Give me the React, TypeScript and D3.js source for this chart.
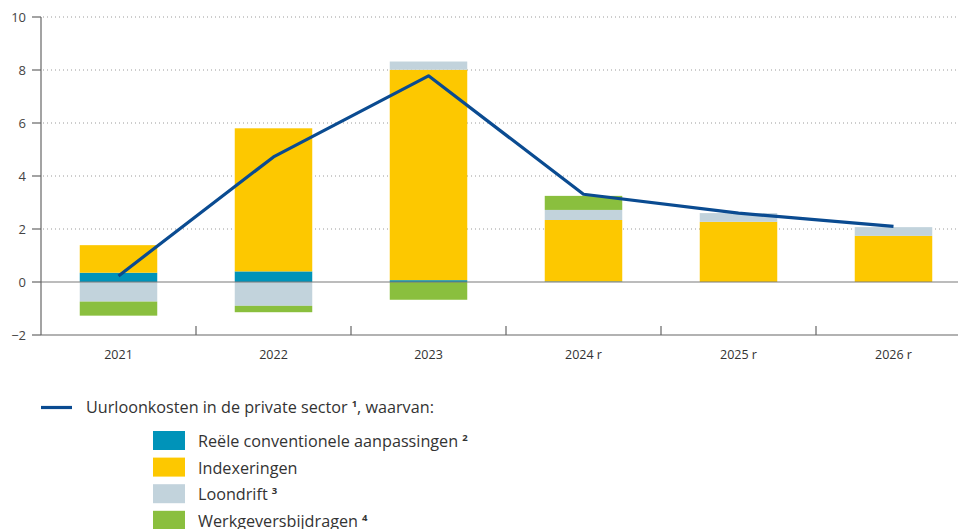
import React from "react";
import * as d3 from "d3";

const categories = ["2021", "2022", "2023", "2024 r", "2025 r", "2026 r"];
const reele = [0.35, 0.4, 0.07, 0.02, 0, 0];
const indexeringen = [1.04, 5.4, 7.94, 2.32, 2.27, 1.74];
const loondrift = [-0.74, -0.9, 0.31, 0.38, 0.33, 0.33];
const werkgever = [-0.53, -0.24, -0.67, 0.53, 0, 0];
const totaal = [0.23, 4.72, 7.78, 3.31, 2.6, 2.1];
const yTicks = [-2, 0, 2, 4, 6, 8, 10];

const seriesKeys = ["reele", "indexeringen", "loondrift", "werkgever"];
const seriesColors: Record<string, string> = {
  reele: "#0093b9",
  indexeringen: "#fdc800",
  loondrift: "#c2d3dc",
  werkgever: "#8abf3e",
};
const legendItems = [
  { key: "reele", label: "Reële conventionele aanpassingen", sup: "2" },
  { key: "indexeringen", label: "Indexeringen", sup: "" },
  { key: "loondrift", label: "Loondrift", sup: "3" },
  { key: "werkgever", label: "Werkgeversbijdragen", sup: "4" },
];

const W = 958;
const H = 529;
const FONT = "'Open Sans', 'Noto Sans', sans-serif";

export default function App() {
  const x = d3
    .scaleBand<string>()
    .domain(categories)
    .range([41, 971])
    .paddingInner(0.5)
    .paddingOuter(0.25);
  const y = d3.scaleLinear().domain([-2, 10]).range([335, 17]);

  const table = categories.map((c, i) => ({
    cat: c,
    reele: reele[i],
    indexeringen: indexeringen[i],
    loondrift: loondrift[i],
    werkgever: werkgever[i],
  }));
  const stacked = d3
    .stack<any>()
    .keys(seriesKeys)
    .offset(d3.stackOffsetDiverging)(table);

  const bw = x.bandwidth();
  const line = d3
    .line<number>()
    .x((_, i) => (x(categories[i]) as number) + bw / 2)
    .y((d) => y(d));

  const boundaries = categories.slice(0, -1).map((c) => (x(c) as number) + bw * 1.5);

  return (
    <svg
      width={W}
      height={H}
      style={{ position: "absolute", left: 0, top: 0, display: "block" }}
      fontFamily={FONT}
    >
      <rect width={W} height={H} fill="#fff" />
      {/* grid */}
      {yTicks
        .filter((t) => t > 0)
        .map((t) => (
          <line
            key={"g" + t}
            x1={43}
            x2={W}
            y1={y(t)}
            y2={y(t)}
            stroke="#9a9a9a"
            strokeWidth={1}
            strokeDasharray="1,3"
          />
        ))}
      {/* bars */}
      {stacked.map((s) => (
        <g key={s.key} fill={seriesColors[s.key]}>
          {s.map((d, i) => {
            const y0 = y(d[0]);
            const y1 = y(d[1]);
            const h = Math.abs(y1 - y0);
            if (h < 0.01) return null;
            return (
              <rect
                key={i}
                x={x(categories[i])}
                y={Math.min(y0, y1)}
                width={bw}
                height={h}
              />
            );
          })}
        </g>
      ))}
      {/* zero line */}
      <line x1={41} x2={W} y1={y(0)} y2={y(0)} stroke="#7a7a7a" strokeWidth={1.2} />
      {/* axes */}
      <line x1={41} x2={41} y1={y(10)} y2={y(-2)} stroke="#666" strokeWidth={1.2} />
      <line x1={41} x2={W} y1={y(-2)} y2={y(-2)} stroke="#666" strokeWidth={1.2} />
      {yTicks.map((t) => (
        <g key={"yt" + t}>
          <line x1={32} x2={41} y1={y(t)} y2={y(t)} stroke="#666" strokeWidth={1.2} />
          <text
            x={26}
            y={y(t)}
            dy="0.35em"
            textAnchor="end"
            fontSize={13}
            fill="#444"
          >
            {t < 0 ? "\u2212" + Math.abs(t) : t}
          </text>
        </g>
      ))}
      {boundaries.map((bx, i) => (
        <line
          key={"xt" + i}
          x1={bx}
          x2={bx}
          y1={y(-2) - 9}
          y2={y(-2)}
          stroke="#666"
          strokeWidth={1.2}
        />
      ))}
      {categories.map((c) => (
        <text
          key={"xl" + c}
          x={(x(c) as number) + bw / 2}
          y={359}
          textAnchor="middle"
          fontSize={12.5}
          fill="#333"
        >
          {c}
        </text>
      ))}
      {/* line */}
      <path
        d={line(totaal) || ""}
        fill="none"
        stroke="#0a4b91"
        strokeWidth={3.2}
        strokeLinejoin="round"
      />
      {/* legend */}
      <line x1={41} x2={72} y1={407.5} y2={407.5} stroke="#0a4b91" strokeWidth={3.2} />
      <text x={86} y={413} fontSize={16.2} fill="#333">
        Uurloonkosten in de private sector
        <tspan dx={4} dy={-6} fontSize={9.5} fontWeight="bold">
          1
        </tspan>
        <tspan dy={6}>, waarvan:</tspan>
      </text>
      {legendItems.map((it, i) => {
        const top = 431 + i * 26.6;
        return (
          <g key={it.key}>
            <rect x={153} y={top} width={32} height={19} fill={seriesColors[it.key]} />
            <text x={198} y={top + 16} fontSize={16.2} fill="#333">
              {it.label}
              {it.sup && (
                <tspan dx={4} dy={-6} fontSize={9.5} fontWeight="bold">
                  {it.sup}
                </tspan>
              )}
            </text>
          </g>
        );
      })}
    </svg>
  );
}
